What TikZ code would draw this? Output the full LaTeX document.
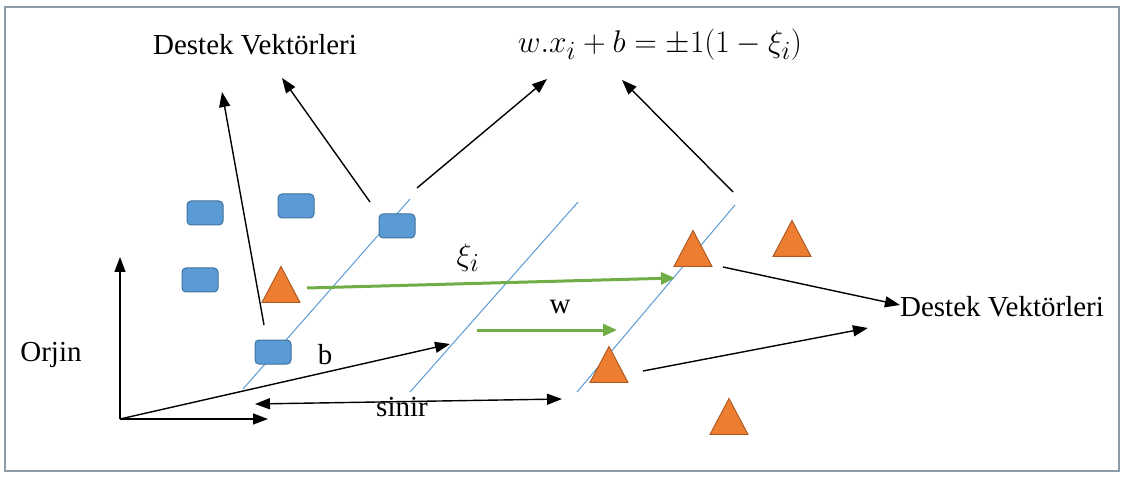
\documentclass[tikz,border=0pt]{standalone}
\usepackage{fontspec}
\setmainfont{Liberation Serif}
\newfontfamily\svserif{Liberation Serif}
\usepackage{tikz}
\usetikzlibrary{shapes.geometric, arrows.meta, positioning}
\definecolor{svblue}{HTML}{5B9BD5}
\definecolor{svblueD}{HTML}{41719C}
\definecolor{svorange}{HTML}{ED7D31}
\definecolor{svorangeD}{HTML}{AE5A21}
\definecolor{svgreen}{HTML}{70AD47}
\definecolor{svframe}{HTML}{8C9CA8}
\tikzset{
  sq/.style={rectangle, rounded corners=4pt, draw=svblueD, fill=svblue,
             minimum width=36pt, minimum height=24pt, inner sep=0pt, line width=1pt},
  tri/.style={isosceles triangle, shape border rotate=90, isosceles triangle stretches,
              draw=svorangeD, fill=svorange, minimum width=38pt, minimum height=36pt,
              inner sep=0pt, anchor=south, line width=1pt},
  plane/.style={draw=svblue, line width=1pt},
  arrow/.style={-{Triangle[length=15pt,width=11pt]}, line width=1.4pt},
  dblarrow/.style={{Triangle[length=15pt,width=11pt]}-{Triangle[length=15pt,width=11pt]}, line width=1.4pt},
  garrow/.style={-{Triangle[length=14pt,width=12pt]}, draw=svgreen, line width=3pt},
  txt/.style={font=\svserif\fontsize{29}{33}\selectfont, inner sep=0pt},
  mtxt/.style={font=\fontsize{24.88}{30}\selectfont, inner sep=0pt},
}
\begin{document}
\begin{tikzpicture}[x=1pt, y=-1pt]
  \useasboundingbox (0,0) rectangle (1124,478);
  \draw[svframe, line width=1.3pt] (5,7) rectangle (1119,471);

  % hyperplanes
  \coordinate (p1a) at (243,389); \coordinate (p1b) at (410,199);
  \coordinate (p2a) at (410,392); \coordinate (p2b) at (578,202);
  \coordinate (p3a) at (577,392); \coordinate (p3b) at (735,205);
  \draw[plane] (p1a) -- (p1b);
  \draw[plane] (p2a) -- (p2b);
  \draw[plane] (p3a) -- (p3b);

  \node[sq] (b1) at (205,213) {};
  \node[sq] (b2) at (296,206) {};
  \node[sq] (b3) at (397,226) {};
  \node[sq] (b4) at (200,280) {};
  \node[sq] (b5) at (273,352) {};

  \node[tri] (t1) at (281,303) {};
  \node[tri] (t2) at (693,267) {};
  \node[tri] (t3) at (792,257) {};
  \node[tri] (t4) at (609,383) {};
  \node[tri] (t5) at (729,435) {};

  \node[txt] (dv1) at (255,45) {Destek Vektörleri};
  \node[mtxt] (eq) at (660,45) {\scalebox{1.26}{$w.x_i+b=\pm1(1-\xi_i)$}};
  \node[txt] (dv2) at (1002,307) {Destek Vektörleri};
  \node[txt] (orj) at (51,355) {Orjin};
  \node[txt] (lb) at (325,355) {b};
  \node[txt, anchor=base] (ls) at (402,416) {sinir};
  \node[mtxt] (lxi) at (468,258) {\scalebox{1.25}{$\xi_i$}};
  \node[txt] (lw) at (560,307) {w};

  % axes and b
  \coordinate (o) at (120,419);
  \coordinate (yax) at (120,257);
  \coordinate (xax) at (268,419);
  \coordinate (btip) at (450,344);
  \draw[arrow] (o) -- (yax);
  \draw[arrow] (o) -- (xax);
  \draw[arrow] (o) -- (btip);

  \coordinate (s1) at (255,404); \coordinate (s2) at (562,399);
  \draw[dblarrow] (s1) -- (s2);

  \coordinate (g1s) at (307,288); \coordinate (g1e) at (675,278);
  \coordinate (g2s) at (477,330); \coordinate (g2e) at (617,330);
  \draw[garrow] (g1s) -- (g1e);
  \draw[garrow] (g2s) -- (g2e);

  \coordinate (a1s) at (264,325); \coordinate (a1e) at (222,92);
  \coordinate (a2s) at (370,202); \coordinate (a2e) at (282,78);
  \coordinate (a3s) at (417,188); \coordinate (a3e) at (547,79);
  \coordinate (a4s) at (733,192); \coordinate (a4e) at (622,80);
  \draw[arrow] (a1s) -- (a1e);
  \draw[arrow] (a2s) -- (a2e);
  \draw[arrow] (a3s) -- (a3e);
  \draw[arrow] (a4s) -- (a4e);

  \coordinate (r1s) at (723,267); \coordinate (r2s) at (643,371);
  \draw[arrow] (r1s) -- (dv2.west |- 0,305);
  \draw[arrow] (r2s) -- ([xshift=-32pt]dv2.west |- 0,328);
\end{tikzpicture}
\end{document}
